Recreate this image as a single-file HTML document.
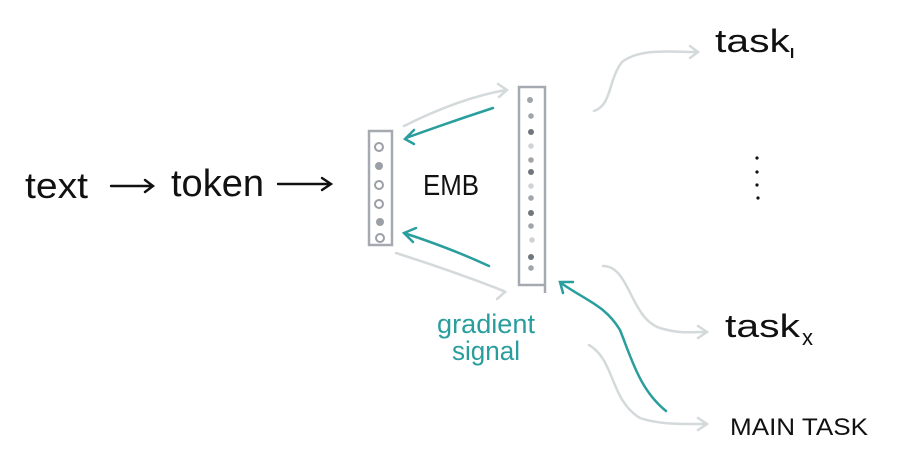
<!DOCTYPE html>
<html><head><meta charset="utf-8"><style>
html,body{margin:0;padding:0;background:#fff;}
svg{display:block;}
text{font-family:"Liberation Sans",sans-serif;}
</style></head><body>
<svg width="900" height="458" viewBox="0 0 900 458" xmlns="http://www.w3.org/2000/svg">
<g fill="#111">
<text x="25" y="198" font-size="36" textLength="63" lengthAdjust="spacingAndGlyphs">text</text>
<text x="171" y="196" font-size="38" textLength="93" lengthAdjust="spacingAndGlyphs">token</text>
<text x="423" y="195" font-size="29" textLength="56" lengthAdjust="spacingAndGlyphs">EMB</text>
<text x="715" y="52" font-size="32" textLength="75" lengthAdjust="spacingAndGlyphs">task</text>
<rect x="791" y="48" width="2.2" height="10"/>
<text x="725" y="337" font-size="32" textLength="75" lengthAdjust="spacingAndGlyphs">task</text>
<text x="802" y="345" font-size="22">x</text>
<text x="730" y="435" font-size="24" textLength="138" lengthAdjust="spacingAndGlyphs">MAIN TASK</text>
<circle cx="757" cy="158" r="1.6"/><circle cx="757" cy="172" r="1.6"/><circle cx="757" cy="185" r="1.6"/><circle cx="758" cy="198" r="1.6"/>
</g>
<g stroke="#111" stroke-width="2.4" fill="none" stroke-linecap="round">
<path d="M111 186 L152 186 M145 180 L153 186 L145 192"/>
<path d="M278 184 L330 184 M322 178 L331 184 L322 190"/>
</g>
<g stroke="#a4aab0" stroke-width="2.5" fill="none">
<path d="M369 131 L392 131 L392 245 L369 245 Z"/>
<path d="M519 87 L545 87 L545 285 L519 285 Z M545 285 L545 293"/>
</g>
<g fill="none" stroke="#9aa0a6" stroke-width="2">
<circle cx="379" cy="147" r="4"/><circle cx="379" cy="185" r="4"/><circle cx="379" cy="204" r="4"/><circle cx="380" cy="238" r="4"/>
</g>
<g fill="#9aa0a6"><circle cx="379" cy="166" r="4"/><circle cx="380" cy="222" r="4"/></g>
<g>
<circle cx="530" cy="100" r="3" fill="#a0a5aa"/><circle cx="531" cy="116" r="2.8" fill="#a0a5aa"/><circle cx="531" cy="132" r="3" fill="#70767c"/>
<circle cx="531" cy="146" r="2.8" fill="#cfd3d6"/><circle cx="531" cy="160" r="2.8" fill="#a0a5aa"/><circle cx="531" cy="172" r="3" fill="#70767c"/>
<circle cx="531" cy="186" r="2.8" fill="#cfd3d6"/><circle cx="531" cy="198" r="2.8" fill="#a0a5aa"/><circle cx="531" cy="213" r="3" fill="#70767c"/>
<circle cx="531" cy="226" r="2.8" fill="#a0a5aa"/><circle cx="532" cy="240" r="2.8" fill="#cfd3d6"/><circle cx="531" cy="257" r="3" fill="#70767c"/><circle cx="531" cy="268" r="2.8" fill="#a0a5aa"/>
</g>
<g stroke="#d4dadb" stroke-width="2.5" fill="none" stroke-linecap="round">
<path d="M404 126 Q460 98 506 90 M498 84 L507 90 L499 97"/>
<path d="M396 253 Q450 270 504 291 M494 287 L505 292 L497 299"/>
<path d="M594 111 C612 105 608 80 622 62 C640 48 670 52 697 52 M690 46 L698 52 L690 58"/>
<path d="M603 266 C630 266 630 318 660 328 C680 334 690 332 706 332 M698 326 L707 332 L698 338"/>
<path d="M589 345 C615 360 610 400 640 418 C660 425 685 424 706 424 M698 418 L707 424 L698 430"/>
</g>
<g stroke="#2a9d9d" stroke-width="2.5" fill="none" stroke-linecap="round">
<path d="M493 108 Q450 122 406 138 M414 130 L405 139 L414 144"/>
<path d="M489 266 Q450 248 404 233 M416 228 L404 233 L413 242"/>
<path d="M666 411 C640 390 632 360 620 330 C605 305 585 300 561 283 M573 282 L560 282 L563 293"/>
</g>
<g fill="#2a9d9d">
<text x="437" y="333" font-size="27" textLength="98" lengthAdjust="spacingAndGlyphs">gradient</text>
<text x="452" y="360" font-size="27" textLength="68" lengthAdjust="spacingAndGlyphs">signal</text>
</g>
</svg>
</body></html>
